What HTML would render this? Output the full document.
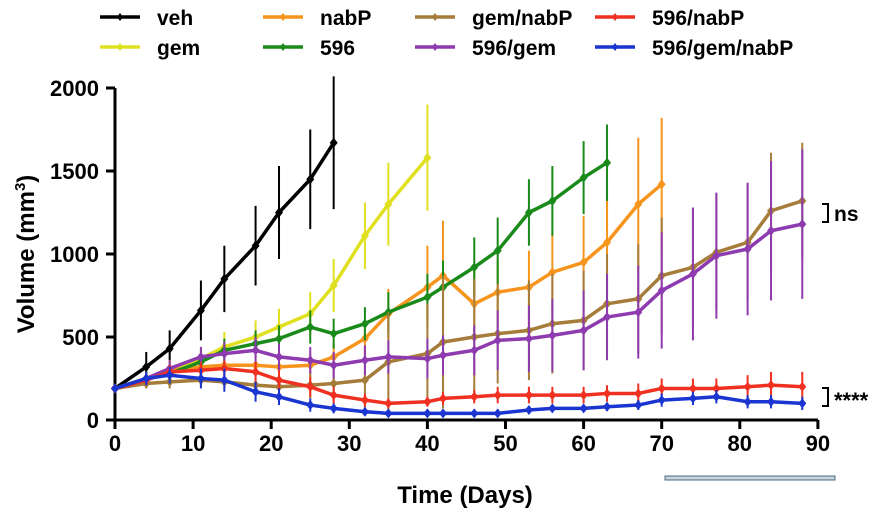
<!DOCTYPE html><html><head><style>body{margin:0;background:#fff}svg text{font-family:"Liberation Sans",Arial,sans-serif;font-weight:bold}</style></head><body>
<svg id="s" width="889" height="521" viewBox="0 0 889 521" xmlns="http://www.w3.org/2000/svg"></svg>
<script>
const s=document.getElementById('s');let h='';
const X=d=>115+d*7.81,Y=v=>420-v*0.166;
const D=[0,4,7,11,14,18,21,25,28,32,35,40,42,46,49,53,56,60,63,67,70,74,77,81,84,88];
const series=[
['#000',[190,320,430,660,850,1050,1250,1450,1670],[0,90,110,180,200,240,280,300,400]],
['#e0e020',[190,250,300,370,440,500,560,640,810,1110,1300,1580],[0,40,60,70,90,100,110,130,160,200,250,320]],
['#f7941d',[190,250,300,320,330,330,320,330,380,490,640,800,870,700,770,800,890,950,1070,1300,1420],[0,40,60,60,60,60,60,70,80,100,150,250,330,200,200,220,250,280,330,400,400]],
['#1a8a1a',[190,250,280,350,420,460,490,560,520,580,650,740,800,920,1020,1250,1320,1460,1550],[0,40,50,60,70,80,80,100,90,100,120,140,160,180,200,200,210,220,230]],
['#a57c3a',[190,220,230,240,230,210,200,210,220,240,350,400,470,500,520,540,580,600,700,730,870,920,1010,1070,1260,1320],[0,30,40,40,40,40,40,80,120,200,300,300,400,350,300,300,300,300,300,330,350,350,350,350,350,350]],
['#8e3bb0',[190,250,310,380,400,420,380,360,330,360,380,370,390,420,480,490,510,540,620,650,780,880,990,1030,1140,1180],[0,40,50,60,70,80,80,80,80,90,100,120,120,150,180,200,220,240,260,280,350,400,380,400,420,450]],
['#f03020',[190,240,290,300,310,290,240,200,150,120,100,110,130,140,150,150,150,150,160,160,190,190,190,200,210,200],[0,30,40,50,50,60,60,60,50,40,30,30,40,40,50,50,50,50,50,60,60,60,60,70,80,90]],
['#1a35d0',[190,250,270,250,240,170,140,90,70,50,40,40,40,40,40,60,70,70,80,90,120,130,140,110,110,100],[0,40,50,60,70,60,50,40,30,20,15,15,15,15,15,20,20,20,25,30,40,40,40,40,40,40]]];
h+='<g stroke="#000" stroke-width="3" fill="none"><path d="M115,88V420H818"/>';
for(let v=0;v<=2000;v+=500)h+=`<path d="M106,${Y(v)}H115"/>`;
for(let d=0;d<=90;d+=10)h+=`<path d="M${X(d)},420V429"/>`;
h+='</g>';
for(let v=0;v<=2000;v+=500)h+=`<text x="99" y="${Y(v)+8}" text-anchor="end" font-size="22">${v}</text>`;
for(let d=0;d<=90;d+=10)h+=`<text x="${X(d)}" y="451" text-anchor="middle" font-size="22">${d}</text>`;
h+='<text x="465" y="503" text-anchor="middle" font-size="24">Time (Days)</text>';
h+='<text transform="translate(34,254) rotate(-90)" text-anchor="middle" font-size="24">Volume (mm<tspan font-size="15" dy="-9">3</tspan><tspan dy="9">)</tspan></text>';
series.forEach(([c,v,e])=>{let p='';v.forEach((y,i)=>{const x=X(D[i]);p+=(i?'L':'M')+x+','+Y(y);if(e[i])h+=`<path d="M${x},${Y(y+e[i])}V${Y(Math.max(0,y-e[i]))}" stroke="${c}" stroke-width="2"/>`;});
h+=`<path d="${p}" stroke="${c}" stroke-width="3.5" fill="none" stroke-linejoin="round"/>`;
v.forEach((y,i)=>{const x=X(D[i]),yy=Y(y);h+=`<path d="M${x},${yy-5}L${x+4},${yy}L${x},${yy+5}L${x-4},${yy}Z" fill="${c}"/>`;});});
const L=[['#000','veh',100,17],['#e0e020','gem',100,47],['#f7941d','nabP',263,17],['#1a8a1a','596',263,47],['#a57c3a','gem/nabP',415,17],['#8e3bb0','596/gem',415,47],['#f03020','596/nabP',595,17],['#1a35d0','596/gem/nabP',595,47]];
L.forEach(([c,t,x,y])=>{h+=`<path d="M${x},${y}H${x+40}" stroke="${c}" stroke-width="3.5"/><path d="M${x+20},${y-4}L${x+23},${y}L${x+20},${y+4}L${x+17},${y}Z" fill="${c}"/><text x="${x+57}" y="${y+8}" font-size="21">${t}</text>`;});
h+='<path d="M822,204H828V222H822M822,388H828V406H822" stroke="#000" stroke-width="2" fill="none"/><text x="834" y="221" font-size="21">ns</text><text x="834" y="408" font-size="22">****</text>';
h+='<rect x="665" y="476" width="170" height="4" fill="#c8d4dc" stroke="#4a6a80" stroke-width="1"/>';
s.innerHTML=h;
</script></body></html>
